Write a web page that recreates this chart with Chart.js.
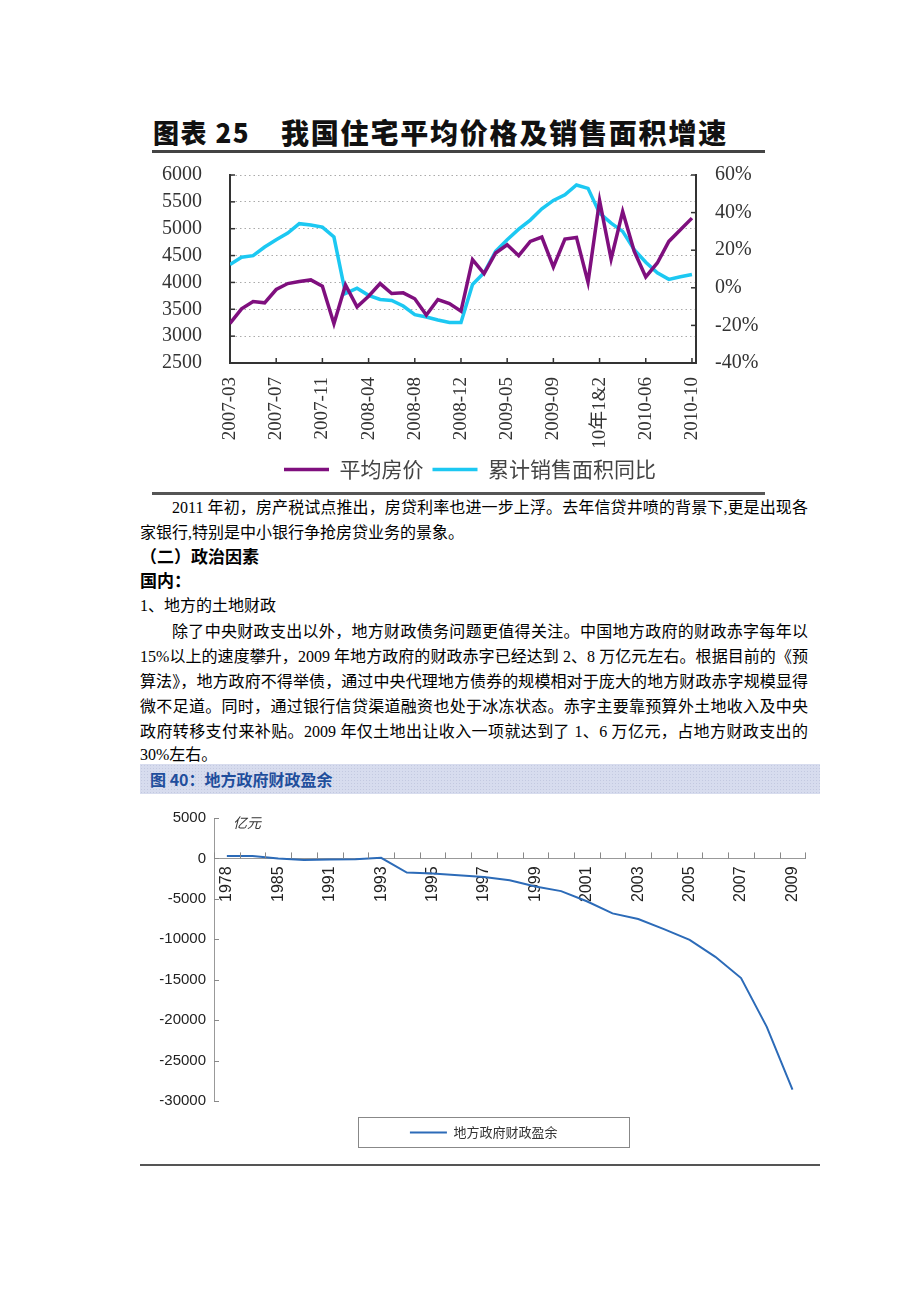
<!DOCTYPE html>
<html><head><meta charset="utf-8">
<script src="https://cdn.jsdelivr.net/npm/chart.js@4.4.1/dist/chart.umd.min.js"></script>
<style>
html,body{margin:0;padding:0;background:#fff;}
body{width:920px;height:1302px;position:relative;overflow:hidden;font-family:"Liberation Serif","Noto Sans CJK SC",serif;color:#000;}
.abs{position:absolute;}
.ln{position:absolute;left:140px;width:668px;font-size:16px;line-height:20px;white-space:nowrap;}
.j{text-align:justify;text-align-last:justify;white-space:normal;}
.b{font-weight:bold;font-size:17px;}
</style></head><body>

<!-- Chart 1 title -->
<div class="abs" style="left:153px;top:116px;font-family:'Noto Sans CJK SC';font-weight:900;font-size:26px;letter-spacing:1.5px;line-height:32px;color:#111;">图表 25</div>
<div class="abs" style="left:281px;top:115px;font-family:'Noto Sans CJK SC';font-weight:900;font-size:28px;letter-spacing:1.8px;line-height:34px;color:#111;">我国住宅平均价格及销售面积增速</div>
<div class="abs" style="left:152px;top:150px;width:613px;height:3px;background:#444;"></div>

<div class="abs" style="left:160px;top:160px;width:620px;height:330px;"><canvas id="c1" width="620" height="330"></canvas></div>
<div class="abs" style="left:152px;top:492px;width:613px;height:3px;background:#555;"></div>

<!-- text -->
<div class="ln j" style="top:498px;padding-left:32px;width:636px;">2011 年初，房产税试点推出，房贷利率也进一步上浮。去年信贷井喷的背景下,更是出现各</div>
<div class="ln" style="top:523px;">家银行,特别是中小银行争抢房贷业务的景象。</div>
<div class="ln b" style="top:548px;">（二）政治因素</div>
<div class="ln b" style="top:572px;">国内：</div>
<div class="ln" style="top:596px;">1、地方的土地财政</div>
<div class="ln j" style="top:622px;padding-left:32px;width:636px;">除了中央财政支出以外，地方财政债务问题更值得关注。中国地方政府的财政赤字每年以</div>
<div class="ln j" style="top:647px;">15%以上的速度攀升，2009 年地方政府的财政赤字已经达到 2、8 万亿元左右。根据目前的《预</div>
<div class="ln j" style="top:672px;">算法》，地方政府不得举债，通过中央代理地方债券的规模相对于庞大的地方财政赤字规模显得</div>
<div class="ln j" style="top:697px;">微不足道。同时，通过银行信贷渠道融资也处于冰冻状态。赤字主要靠预算外土地收入及中央</div>
<div class="ln j" style="top:722px;">政府转移支付来补贴。2009 年仅土地出让收入一项就达到了 1、6 万亿元，占地方财政支出的</div>
<div class="ln" style="top:745px;">30%左右。</div>

<!-- Chart 2 header -->
<div class="abs" style="left:140px;top:764px;width:680px;height:30px;background-color:#D7DCEE;background-image:radial-gradient(#c3c9e0 0.8px, transparent 0.9px);background-size:3px 3px;"></div>
<div class="abs" style="left:150px;top:767px;font-family:'Noto Sans CJK SC','Liberation Sans';font-weight:bold;font-size:16px;line-height:24px;color:#1F4E9C;">图 40：地方政府财政盈余</div>

<div class="abs" style="left:140px;top:800px;width:680px;height:349px;"><canvas id="c2" width="680" height="349"></canvas></div>
<div class="abs" style="left:233px;top:812px;font-family:'Noto Sans CJK SC';font-size:14px;line-height:20px;color:#333;font-style:italic;">亿元</div>
<div class="abs" style="left:358px;top:1117px;width:270px;height:29px;border:1px solid #888;"></div>
<div class="abs" style="left:140px;top:1164px;width:680px;height:2px;background:#555;"></div>

<script>
// ---------- Chart 1 data ----------
const months = ['2007-03','2007-04','2007-05','2007-06','2007-07','2007-08','2007-09','2007-10','2007-11','2007-12',
  '2008-1&2','2008-03','2008-04','2008-05','2008-06','2008-07','2008-08','2008-09','2008-10','2008-11','2008-12',
  '2009-1&2','2009-03','2009-04','2009-05','2009-06','2009-07','2009-08','2009-09','2009-10','2009-11','2009-12',
  '10年1&2','2010-03','2010-04','2010-05','2010-06','2010-07','2010-08','2010-09','2010-10'];
const avgPrice = [3237,3509,3645,3620,3868,3979,4016,4047,3930,3231,
  3954,3546,3744,3979,3794,3806,3695,3392,3682,3608,3466,
  4424,4165,4548,4702,4498,4764,4844,4288,4807,4838,
  4004,5524,4436,5320,4579,4103,4362,4764,4980,5197];
const salesAreaYoY = [12.4,16.3,17.1,21.7,25.6,29.1,34.1,33.4,32.3,27.0,
  -3.0,-0.2,-4.0,-6.2,-6.7,-9.7,-14.3,-15.5,-17.1,-18.5,-18.5,
  1.8,8.0,19.4,25.6,31.2,36.0,42.0,46.5,49.5,54.7,
  52.9,39.7,34.4,30.0,20.3,13.6,8.0,4.5,5.9,7.1];
const priceTicks = [2500,3000,3500,4000,4500,5000,5500,6000];
const pctTicks = [-40,-20,0,20,40,60];

// ---------- Chart 2 data ----------
const years = ['1978','1980','1985','1990','1991','1992','1993','1994','1995','1996','1997','1998','1999',
  '2000','2001','2002','2003','2004','2005','2006','2007','2008','2009'];
const localSurplus = [300,300,-20,-200,-130,-100,80,-1750,-1875,-2080,-2290,-2700,-3460,
  -4040,-5300,-6800,-7500,-8750,-10080,-12170,-14800,-20830,-28600];
const surplusTicks = [5000,0,-5000,-10000,-15000,-20000,-25000,-30000];

const serif = "'Liberation Serif','Noto Sans CJK SC',serif";
const sans = "'Liberation Sans','Noto Sans CJK SC',sans-serif";

function line(ctx,x1,y1,x2,y2){ctx.beginPath();ctx.moveTo(x1,y1);ctx.lineTo(x2,y2);ctx.stroke();}

const ticks1 = {
  id:'ticks1',
  afterDraw(chart){
    const ctx = chart.ctx, a = chart.chartArea;
    ctx.save(); ctx.strokeStyle='#333'; ctx.lineWidth=1.5;
    chart.scales.y.ticks.forEach(t=>{const p=chart.scales.y.getPixelForValue(t.value); line(ctx,a.left,p,a.left+5,p);});
    chart.scales.y2.ticks.forEach(t=>{const p=chart.scales.y2.getPixelForValue(t.value); line(ctx,a.right-5,p,a.right,p);});
    chart.scales.x.ticks.forEach(t=>{const p=chart.scales.x.getPixelForValue(t.value); line(ctx,p,a.bottom,p,a.bottom-5);});
    ctx.restore();
  }
};

new Chart(document.getElementById('c1'), {
  type:'line',
  data:{
    datasets:[
      {label:'平均房价', data:avgPrice.map((v,i)=>({x:i,y:v})), yAxisID:'y', borderColor:'#7F0F7E', backgroundColor:'#7F0F7E', borderWidth:3.5, pointRadius:0, tension:0},
      {label:'累计销售面积同比', data:salesAreaYoY.map((v,i)=>({x:i,y:v})), yAxisID:'y2', borderColor:'#1CC8F2', backgroundColor:'#1CC8F2', borderWidth:3.5, pointRadius:0, tension:0}
    ]
  },
  options:{
    responsive:false, animation:false, events:[],
    layout:{padding:{top:15,left:0,right:0,bottom:0}},
    plugins:{
      tooltip:{enabled:false},
      legend:{position:'bottom', labels:{boxWidth:45, boxHeight:0, padding:9, color:'#444', font:{family:"'Noto Sans CJK SC'", size:21}}}
    },
    scales:{
      x:{type:'linear', min:0, max:40.35,
        afterBuildTicks:s=>{s.ticks = months.map((m,i)=>({value:i})).filter(t=>t.value%4===0);},
        afterFit:s=>{s.height=87;},
        grid:{display:false, drawTicks:false},
        border:{display:true,color:'#333',width:2},
        ticks:{autoSkip:false, minRotation:90, maxRotation:90, padding:14, color:'#333', font:{family:serif,size:19}, callback:v=>months[v]}
      },
      y:{position:'left', min:2500, max:6000,
        afterBuildTicks:s=>{s.ticks = priceTicks.map(v=>({value:v}));},
        afterFit:s=>{s.width=70; s.paddingTop=8; s.paddingBottom=8;},
        grid:{color:'#aaa', drawTicks:false, lineWidth:1},
        border:{display:true,color:'#333',width:2, dash:[1.5,3]},
        ticks:{autoSkip:false, padding:28, color:'#333', font:{family:serif,size:20}, callback:v=>String(v)}
      },
      y2:{position:'right', min:-40, max:60,
        afterBuildTicks:s=>{s.ticks = pctTicks.map(v=>({value:v}));},
        afterFit:s=>{s.width=84; s.paddingTop=8; s.paddingBottom=8;},
        grid:{display:false, drawTicks:false},
        border:{display:true,color:'#333',width:2},
        ticks:{autoSkip:false, padding:19, color:'#333', font:{family:serif,size:20}, callback:v=>v+'%'}
      }
    }
  },
  plugins:[ticks1]
});

const ticks2 = {
  id:'ticks2',
  afterDraw(chart){
    const ctx = chart.ctx, a = chart.chartArea, xs = chart.scales.x, ys = chart.scales.y;
    ctx.save(); ctx.strokeStyle='#888'; ctx.lineWidth=1;
    const y0 = ys.getPixelForValue(0);
    const half = (xs.getPixelForValue(1)-xs.getPixelForValue(0))/2;
    for(let i=0;i<=years.length;i++){const p = Math.round(xs.getPixelForValue(i)-half); line(ctx,p+0.5,y0-6,p+0.5,y0);}
    ys.ticks.forEach(t=>{const p=Math.round(ys.getPixelForValue(t.value)); line(ctx,a.left,p+0.5,a.left+5,p+0.5);});
    ctx.restore();
  }
};

new Chart(document.getElementById('c2'), {
  type:'line',
  data:{labels:years, datasets:[{label:'地方政府财政盈余', data:localSurplus, borderColor:'#2C6BB8', backgroundColor:'#2C6BB8', borderWidth:2, pointRadius:0, tension:0}]},
  options:{
    responsive:false, animation:false, events:[],
    layout:{padding:{top:18,right:9,bottom:0,left:0}},
    plugins:{
      tooltip:{enabled:false},
      legend:{position:'bottom', fullSize:false,
        labels:{boxWidth:37, boxHeight:0, padding:25, color:'#333', font:{family:"'Noto Sans CJK SC'", size:13},
          generateLabels:chart=>Chart.defaults.plugins.legend.labels.generateLabels(chart).map(l=>Object.assign(l,{text:l.text+'\u3000\u3000\u3000\u3000'}))}}
    },
    scales:{
      x:{type:'category', offset:true, position:{y:0},
        grid:{display:false, drawTicks:false},
        border:{display:true,color:'#999',width:1},
        ticks:{autoSkip:false, minRotation:90, maxRotation:90, padding:8, color:'#222', font:{family:sans,size:16},
          callback:(v,i)=> i%2===0 ? years[i] : ''}
      },
      y:{min:-30000, max:5000,
        afterBuildTicks:s=>{s.ticks = surplusTicks.map(v=>({value:v}));},
        afterFit:s=>{s.width=74;},
        grid:{display:false, drawTicks:false},
        border:{display:true,color:'#999',width:1},
        ticks:{autoSkip:false, padding:8, color:'#222', font:{family:sans,size:15}, callback:v=>String(v)}
      }
    }
  },
  plugins:[ticks2]
});
</script>
</body></html>
